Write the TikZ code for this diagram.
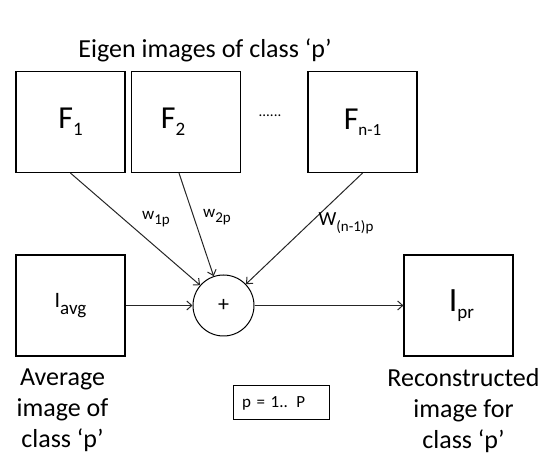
\documentclass[tikz,border=0pt]{standalone}
\usepackage{fontspec}
\setmainfont{Carlito}
\usetikzlibrary{positioning,arrows.meta}

\newcommand{\lowsub}[2]{{\fontsize{#1}{#1}\selectfont\raisebox{-0.38em}{#2}}}

\tikzset{
  imgbox/.style={draw, line width=1.2pt, minimum width=109pt, minimum height=101pt, inner sep=0pt},
  wlabel/.style={inner sep=0pt, font=\fontsize{17}{20}\selectfont},
  caption/.style={align=center, inner sep=0pt, font=\fontsize{26}{31}\selectfont},
  link/.style={-{Straight Barb[length=5pt,width=9pt]}, line width=1pt, draw=black!85},
}

\begin{document}
\begin{tikzpicture}[x=1pt, y=-1pt]
\useasboundingbox (0,0) rectangle (542,457);

\node[inner sep=0pt, font=\fontsize{26}{30}\selectfont] (title) at (205,50) {Eigen images of class ‘p’};

% eigen image boxes
\node[imgbox, font=\fontsize{32}{36}\selectfont] (F1) at (70.5,122) {\raisebox{6pt}{F\lowsub{19}{1}}};
\node[imgbox, font=\fontsize{32}{36}\selectfont] (F2) at (186,122) {\raisebox{6pt}{F\lowsub{19}{2}}\kern26pt};
\node[imgbox, font=\fontsize{32}{36}\selectfont] (Fn) at (362.5,122) {\raisebox{6pt}{F\lowsub{17}{n-1}}};
\node[inner sep=0pt, font=\fontsize{15}{15}\selectfont] (dots) at (270,116) {......};

% summing node
\node[circle, draw, line width=1pt, minimum size=61pt, inner sep=0pt, font=\fontsize{22}{22}\selectfont] (sum) at (223.5,305.5) {+};

\node[imgbox, font=\fontsize{22}{24}\selectfont] (avg) at (70.5,305.5) {I\lowsub{19}{avg}};
\node[imgbox, font=\fontsize{34}{36}\selectfont] (pr) at (458.5,305.5) {\hspace{6pt}I\lowsub{19}{pr}};

% weights
\draw[link] (F1.south) -- (sum);
\draw[link] ([xshift=-7pt]F2.south) -- (sum);
\draw[link] (Fn.south) -- (sum);
\node[wlabel] (w1) at (156,219) {w\lowsub{15}{1p}};
\node[wlabel] (w2) at (217,217) {w\lowsub{15}{2p}};
\node[wlabel, font=\fontsize{20}{22}\selectfont] (wn) at (346,223) {W\lowsub{15}{(n-1)p}};

\draw[link] (avg.east) -- (sum.west);
\draw[link] (sum.east) -- (pr.west);

% captions
\node[caption, below=12pt of avg, xshift=-8pt] (avgtext) {Average\\image of\\class ‘p’};
\node[caption, below=12pt of pr, xshift=5pt] (prtext) {Reconstructed\\image for\\class ‘p’};
\node[draw, line width=1pt, minimum height=34pt, text width=78pt, inner xsep=9pt, inner ysep=0pt, align=left, font=\fontsize{17}{20}\selectfont] (range) at (281,403) {p = 1.. P};
\end{tikzpicture}
\end{document}
